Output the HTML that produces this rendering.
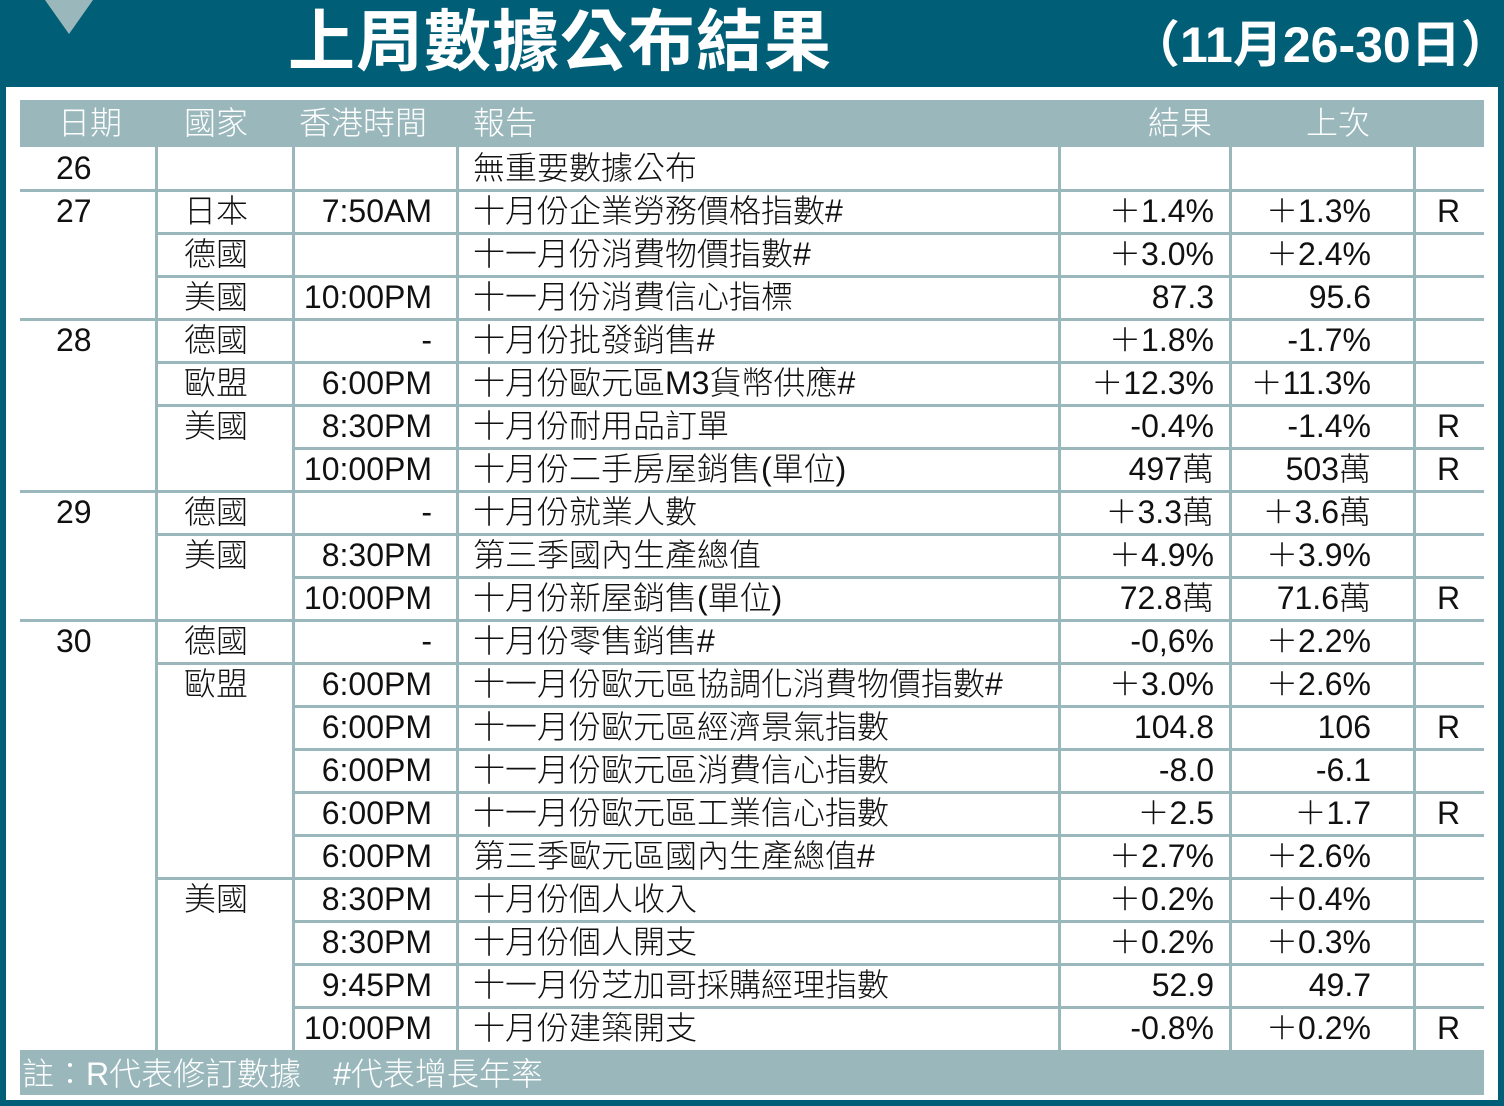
<!DOCTYPE html>
<html><head><meta charset="utf-8"><style>
*{margin:0;padding:0;box-sizing:border-box}
body{width:1504px;height:1106px;background:#fff;position:relative;overflow:hidden;font-family:"Liberation Sans","Noto Sans CJK TC",sans-serif;}
.a{position:absolute}
.hl{position:absolute;height:3px;background:#9ab8bc}
.vl{position:absolute;width:3px;background:#9ab8bc}
.r{position:absolute;height:43px;line-height:43px;font-size:32px;font-weight:300;color:#111;white-space:nowrap}
.c{position:absolute;top:0}
</style></head><body>
<div class="a" style="left:0;top:0;width:1504px;height:87px;background:#005e76"></div>
<div class="a" style="left:0;top:0;width:6px;height:1106px;background:#005e76"></div>
<div class="a" style="right:0;top:0;width:6px;height:1106px;background:#005e76"></div>
<div class="a" style="left:0;bottom:0;width:1504px;height:6px;background:#005e76"></div>
<div class="a" style="left:45px;top:0;width:0;height:0;border-left:24px solid transparent;border-right:24px solid transparent;border-top:34px solid #9ab8bc"></div>
<div class="a" style="left:288px;top:3px;font-size:67px;font-weight:bold;color:#fff;line-height:80px;letter-spacing:1px">上周數據公布結果</div>
<div class="a" style="left:1130px;top:14px;font-size:50px;font-weight:bold;color:#fff;line-height:62px">（11月26-30日）</div>

<div class="a" style="left:20px;top:100px;width:1464px;height:47px;background:#9ab8bc"></div>
<div class="a" style="left:20px;top:1050px;width:1464px;height:45px;background:#9ab8bc"></div>
<div class="r" style="top:102px;left:0;color:#fff;font-size:32px">
<span class="c" style="left:58px">日期</span><span class="c" style="left:184px">國家</span><span class="c" style="left:299px">香港時間</span><span class="c" style="left:473px">報告</span><span class="c" style="left:1148px">結果</span><span class="c" style="left:1306px">上次</span></div>
<div class="r" style="top:1053px;left:0;color:#fff;font-size:32px"><span class="c" style="left:22px">註：R代表修訂數據　#代表增長年率</span></div>

<div class="vl" style="left:155px;top:147px;height:903px"></div>
<div class="vl" style="left:292px;top:147px;height:903px"></div>
<div class="vl" style="left:456px;top:147px;height:903px"></div>
<div class="vl" style="left:1058px;top:147px;height:903px"></div>
<div class="vl" style="left:1229px;top:147px;height:903px"></div>
<div class="vl" style="left:1413px;top:147px;height:903px"></div>

<div class="hl" style="left:20px;width:1464px;top:189px"></div>
<div class="hl" style="left:156px;width:1328px;top:232px"></div>
<div class="hl" style="left:156px;width:1328px;top:275px"></div>
<div class="hl" style="left:20px;width:1464px;top:318px"></div>
<div class="hl" style="left:156px;width:1328px;top:361px"></div>
<div class="hl" style="left:156px;width:1328px;top:404px"></div>
<div class="hl" style="left:293px;width:1191px;top:447px"></div>
<div class="hl" style="left:20px;width:1464px;top:490px"></div>
<div class="hl" style="left:156px;width:1328px;top:533px"></div>
<div class="hl" style="left:293px;width:1191px;top:576px"></div>
<div class="hl" style="left:20px;width:1464px;top:619px"></div>
<div class="hl" style="left:156px;width:1328px;top:662px"></div>
<div class="hl" style="left:293px;width:1191px;top:705px"></div>
<div class="hl" style="left:293px;width:1191px;top:748px"></div>
<div class="hl" style="left:293px;width:1191px;top:791px"></div>
<div class="hl" style="left:293px;width:1191px;top:834px"></div>
<div class="hl" style="left:156px;width:1328px;top:877px"></div>
<div class="hl" style="left:293px;width:1191px;top:920px"></div>
<div class="hl" style="left:293px;width:1191px;top:963px"></div>
<div class="hl" style="left:293px;width:1191px;top:1006px"></div>

<div class="r" style="top:147px;left:0;width:1504px"><span class="c" style="left:56px">26</span><span class="c" style="left:473px">無重要數據公布</span></div>
<div class="r" style="top:190px;left:0;width:1504px"><span class="c" style="left:56px">27</span><span class="c" style="left:184px">日本</span><span class="c" style="right:1072px">7:50AM</span><span class="c" style="left:473px">十月份企業勞務價格指數#</span><span class="c" style="right:290px">＋1.4%</span><span class="c" style="right:133px">＋1.3%</span><span class="c" style="left:1437px">R</span></div>
<div class="r" style="top:233px;left:0;width:1504px"><span class="c" style="left:184px">德國</span><span class="c" style="left:473px">十一月份消費物價指數#</span><span class="c" style="right:290px">＋3.0%</span><span class="c" style="right:133px">＋2.4%</span></div>
<div class="r" style="top:276px;left:0;width:1504px"><span class="c" style="left:184px">美國</span><span class="c" style="right:1072px">10:00PM</span><span class="c" style="left:473px">十一月份消費信心指標</span><span class="c" style="right:290px">87.3</span><span class="c" style="right:133px">95.6</span></div>
<div class="r" style="top:319px;left:0;width:1504px"><span class="c" style="left:56px">28</span><span class="c" style="left:184px">德國</span><span class="c" style="right:1072px">-</span><span class="c" style="left:473px">十月份批發銷售#</span><span class="c" style="right:290px">＋1.8%</span><span class="c" style="right:133px">-1.7%</span></div>
<div class="r" style="top:362px;left:0;width:1504px"><span class="c" style="left:184px">歐盟</span><span class="c" style="right:1072px">6:00PM</span><span class="c" style="left:473px">十月份歐元區M3貨幣供應#</span><span class="c" style="right:290px">＋12.3%</span><span class="c" style="right:133px">＋11.3%</span></div>
<div class="r" style="top:405px;left:0;width:1504px"><span class="c" style="left:184px">美國</span><span class="c" style="right:1072px">8:30PM</span><span class="c" style="left:473px">十月份耐用品訂單</span><span class="c" style="right:290px">-0.4%</span><span class="c" style="right:133px">-1.4%</span><span class="c" style="left:1437px">R</span></div>
<div class="r" style="top:448px;left:0;width:1504px"><span class="c" style="right:1072px">10:00PM</span><span class="c" style="left:473px">十月份二手房屋銷售(單位)</span><span class="c" style="right:290px">497萬</span><span class="c" style="right:133px">503萬</span><span class="c" style="left:1437px">R</span></div>
<div class="r" style="top:491px;left:0;width:1504px"><span class="c" style="left:56px">29</span><span class="c" style="left:184px">德國</span><span class="c" style="right:1072px">-</span><span class="c" style="left:473px">十月份就業人數</span><span class="c" style="right:290px">＋3.3萬</span><span class="c" style="right:133px">＋3.6萬</span></div>
<div class="r" style="top:534px;left:0;width:1504px"><span class="c" style="left:184px">美國</span><span class="c" style="right:1072px">8:30PM</span><span class="c" style="left:473px">第三季國內生產總值</span><span class="c" style="right:290px">＋4.9%</span><span class="c" style="right:133px">＋3.9%</span></div>
<div class="r" style="top:577px;left:0;width:1504px"><span class="c" style="right:1072px">10:00PM</span><span class="c" style="left:473px">十月份新屋銷售(單位)</span><span class="c" style="right:290px">72.8萬</span><span class="c" style="right:133px">71.6萬</span><span class="c" style="left:1437px">R</span></div>
<div class="r" style="top:620px;left:0;width:1504px"><span class="c" style="left:56px">30</span><span class="c" style="left:184px">德國</span><span class="c" style="right:1072px">-</span><span class="c" style="left:473px">十月份零售銷售#</span><span class="c" style="right:290px">-0,6%</span><span class="c" style="right:133px">＋2.2%</span></div>
<div class="r" style="top:663px;left:0;width:1504px"><span class="c" style="left:184px">歐盟</span><span class="c" style="right:1072px">6:00PM</span><span class="c" style="left:473px">十一月份歐元區協調化消費物價指數#</span><span class="c" style="right:290px">＋3.0%</span><span class="c" style="right:133px">＋2.6%</span></div>
<div class="r" style="top:706px;left:0;width:1504px"><span class="c" style="right:1072px">6:00PM</span><span class="c" style="left:473px">十一月份歐元區經濟景氣指數</span><span class="c" style="right:290px">104.8</span><span class="c" style="right:133px">106</span><span class="c" style="left:1437px">R</span></div>
<div class="r" style="top:749px;left:0;width:1504px"><span class="c" style="right:1072px">6:00PM</span><span class="c" style="left:473px">十一月份歐元區消費信心指數</span><span class="c" style="right:290px">-8.0</span><span class="c" style="right:133px">-6.1</span></div>
<div class="r" style="top:792px;left:0;width:1504px"><span class="c" style="right:1072px">6:00PM</span><span class="c" style="left:473px">十一月份歐元區工業信心指數</span><span class="c" style="right:290px">＋2.5</span><span class="c" style="right:133px">＋1.7</span><span class="c" style="left:1437px">R</span></div>
<div class="r" style="top:835px;left:0;width:1504px"><span class="c" style="right:1072px">6:00PM</span><span class="c" style="left:473px">第三季歐元區國內生產總值#</span><span class="c" style="right:290px">＋2.7%</span><span class="c" style="right:133px">＋2.6%</span></div>
<div class="r" style="top:878px;left:0;width:1504px"><span class="c" style="left:184px">美國</span><span class="c" style="right:1072px">8:30PM</span><span class="c" style="left:473px">十月份個人收入</span><span class="c" style="right:290px">＋0.2%</span><span class="c" style="right:133px">＋0.4%</span></div>
<div class="r" style="top:921px;left:0;width:1504px"><span class="c" style="right:1072px">8:30PM</span><span class="c" style="left:473px">十月份個人開支</span><span class="c" style="right:290px">＋0.2%</span><span class="c" style="right:133px">＋0.3%</span></div>
<div class="r" style="top:964px;left:0;width:1504px"><span class="c" style="right:1072px">9:45PM</span><span class="c" style="left:473px">十一月份芝加哥採購經理指數</span><span class="c" style="right:290px">52.9</span><span class="c" style="right:133px">49.7</span></div>
<div class="r" style="top:1007px;left:0;width:1504px"><span class="c" style="right:1072px">10:00PM</span><span class="c" style="left:473px">十月份建築開支</span><span class="c" style="right:290px">-0.8%</span><span class="c" style="right:133px">＋0.2%</span><span class="c" style="left:1437px">R</span></div>
</body></html>
